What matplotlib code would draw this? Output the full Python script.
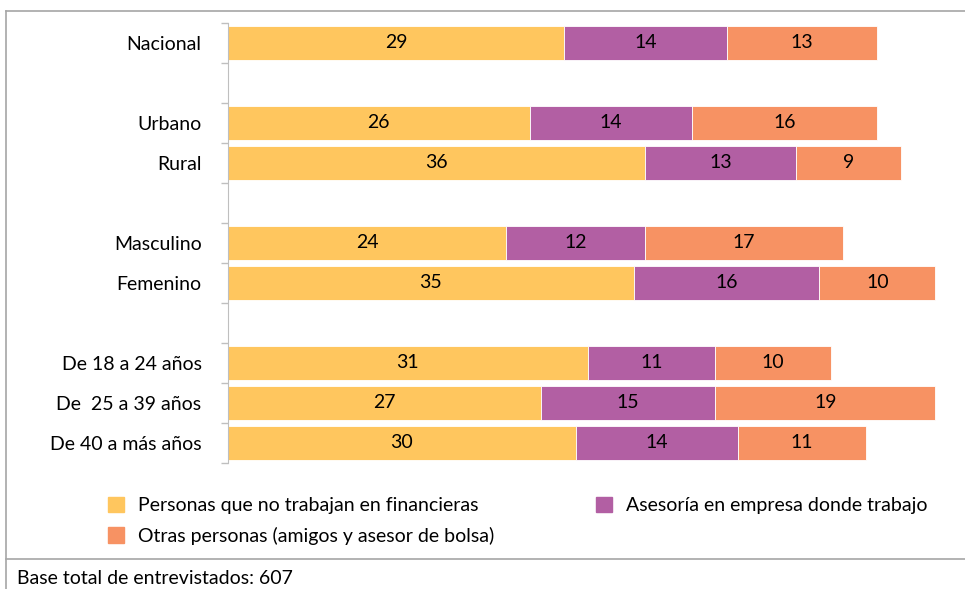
#!/usr/bin/env python3
import matplotlib

matplotlib.use("Agg", force=True)
import matplotlib.pyplot as plt
from matplotlib.lines import Line2D
from matplotlib.patches import Patch
import numpy as np

plt.rcParams["font.family"] = ["Lato", "DejaVu Sans"]

# rows top to bottom; empty strings are spacer rows
CATEGORIES = [
    "Nacional", "",
    "Urbano", "Rural", "",
    "Masculino", "Femenino", "",
    "De 18 a 24 años", "De  25 a 39 años", "De 40 a más años",
]
NO_FINANCIERAS = [29, None, 26, 36, None, 24, 35, None, 31, 27, 30]
ASESORIA = [14, None, 14, 13, None, 12, 16, None, 11, 15, 14]
OTRAS = [13, None, 16, 9, None, 17, 10, None, 10, 19, 11]

SERIES = [
    ("Personas que no trabajan en financieras", NO_FINANCIERAS, "#FFC65E"),
    ("Asesoría en empresa donde trabajo", ASESORIA, "#B25FA3"),
    ("Otras personas (amigos y asesor de bolsa)", OTRAS, "#F79263"),
]
NOTE = "Base total de entrevistados: 607"
FS = 14

W, H = 965, 589
fig = plt.figure(figsize=(W / 100, H / 100), dpi=100)
ax = fig.add_axes([228 / W, 1 - 463 / H, 719 / W, 440 / H])

rows = [i for i, c in enumerate(CATEGORIES) if c]
left = np.zeros(len(rows))
for name, vals, color in SERIES:
    v = np.array([vals[i] for i in rows], dtype=float)
    bars = ax.barh(rows, v, left=left, height=0.83, color=color,
                   edgecolor="white", linewidth=0.6, label=name)
    ax.bar_label(bars, labels=[f"{int(x)}" for x in v], label_type="center",
                 fontsize=FS, color="black")
    left += v

ax.set_xlim(0, 62)
ax.set_ylim(len(CATEGORIES) - 0.5, -0.5)
ax.set_xticks([])
ax.set_yticks(rows)
ax.set_yticklabels([CATEGORIES[i] for i in rows], fontsize=FS)
ax.tick_params(axis="y", which="major", length=0, pad=19)
ax.set_yticks(np.arange(len(CATEGORIES) + 1) - 0.5, minor=True)
ax.tick_params(axis="y", which="minor", length=5, color="#BFBFBF", width=1)
for side in ("top", "right", "bottom"):
    ax.spines[side].set_visible(False)
ax.spines["left"].set_color("#BFBFBF")

handles = [Patch(color=SERIES[0][2]), Patch(color=SERIES[2][2]), Patch(color=SERIES[1][2])]
labels = [SERIES[0][0], SERIES[2][0], SERIES[1][0]]
fig.legend(handles, labels, ncol=2, loc="upper left",
           bbox_to_anchor=(98 / W, 1 - 487 / H), frameon=False, borderpad=0,
           fontsize=FS, handlelength=0.82, handleheight=0.82,
           handletextpad=0.72, columnspacing=5.25, labelspacing=0.65)

# outer frame and footer
frame = dict(color="#A6A6A6", linewidth=1.2, transform=fig.transFigure)
fig.add_artist(Line2D([6 / W, 6 / W], [0, 1 - 11 / H], **frame))
fig.add_artist(Line2D([6 / W, 1], [1 - 11 / H, 1 - 11 / H], **frame))
fig.add_artist(Line2D([6 / W, 1], [1 - 559 / H, 1 - 559 / H], **frame))
fig.text(17 / W, 1 - 578 / H, NOTE, fontsize=FS, va="center", ha="left")

fig.savefig("out.png", dpi=100)
